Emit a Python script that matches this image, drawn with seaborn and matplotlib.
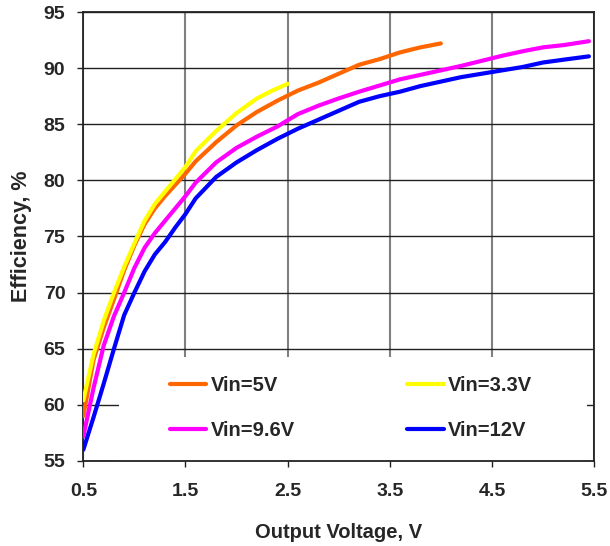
import matplotlib
matplotlib.use("Agg")
import matplotlib.pyplot as plt
from matplotlib.patches import Rectangle
import seaborn as sns
import pandas as pd

# Efficiency vs output voltage for four input voltages
vout_5v = [0.5, 0.6, 0.7, 0.8, 0.9, 1.0, 1.1, 1.2, 1.3, 1.4, 1.5, 1.6, 1.8, 2.0,
           2.2, 2.4, 2.6, 2.8, 3.0, 3.2, 3.4, 3.6, 3.8, 4.0]
eff_5v = [59.0, 64.0, 66.9, 69.4, 72.0, 74.2, 76.1, 77.5, 78.6, 79.6, 80.6, 81.7,
          83.4, 84.9, 86.1, 87.1, 88.0, 88.7, 89.5, 90.3, 90.8, 91.4, 91.85, 92.2]

vout_3v3 = [0.5, 0.6, 0.7, 0.8, 0.9, 1.0, 1.1, 1.2, 1.3, 1.4, 1.5, 1.6, 1.8, 2.0,
            2.2, 2.35, 2.5]
eff_3v3 = [60.4, 64.5, 67.5, 70.0, 72.3, 74.4, 76.4, 77.9, 79.0, 80.1, 81.2, 82.6,
           84.4, 86.0, 87.3, 88.0, 88.6]

vout_9v6 = [0.5, 0.6, 0.7, 0.8, 0.9, 1.0, 1.1, 1.2, 1.3, 1.4, 1.5, 1.6, 1.8, 2.0,
            2.2, 2.4, 2.6, 2.8, 3.0, 3.2, 3.4, 3.6, 3.8, 4.0, 4.2, 4.4, 4.6, 4.8,
            5.0, 5.2, 5.45]
eff_9v6 = [57.2, 61.5, 65.3, 67.9, 70.0, 72.2, 74.0, 75.3, 76.4, 77.5, 78.6, 79.8,
           81.6, 82.9, 83.9, 84.8, 85.9, 86.65, 87.3, 87.9, 88.45, 89.0, 89.4, 89.8,
           90.2, 90.65, 91.1, 91.5, 91.85, 92.05, 92.4]

vout_12v = [0.5, 0.6, 0.7, 0.8, 0.9, 1.0, 1.1, 1.2, 1.3, 1.4, 1.5, 1.6, 1.8, 2.0,
            2.2, 2.4, 2.6, 2.8, 3.0, 3.2, 3.4, 3.6, 3.8, 4.0, 4.2, 4.4, 4.6, 4.8,
            5.0, 5.2, 5.45]
eff_12v = [56.0, 58.9, 61.9, 65.0, 68.0, 70.0, 71.9, 73.4, 74.5, 75.8, 77.0, 78.4,
           80.3, 81.6, 82.7, 83.7, 84.6, 85.4, 86.2, 87.0, 87.5, 87.9, 88.4, 88.8,
           89.2, 89.5, 89.8, 90.1, 90.5, 90.75, 91.05]

series_names = ["Vin=5V", "Vin=3.3V", "Vin=9.6V", "Vin=12V"]
series_colors = ["#FF6600", "#FFFF00", "#FF00FF", "#0000FF"]
x_ticks = [0.5, 1.5, 2.5, 3.5, 4.5, 5.5]
y_ticks = [55, 60, 65, 70, 75, 80, 85, 90, 95]

frames = []
for name, xs, ys in zip(series_names,
                        [vout_5v, vout_3v3, vout_9v6, vout_12v],
                        [eff_5v, eff_3v3, eff_9v6, eff_12v]):
    frames.append(pd.DataFrame({"vout": xs, "eff": ys, "series": name}))
df = pd.concat(frames, ignore_index=True)

sns.set_style("white")
plt.rcParams["font.family"] = ["Liberation Sans", "DejaVu Sans"]
plt.rcParams["font.weight"] = "bold"

fig = plt.figure(figsize=(6.10, 5.46), dpi=100)
ax = fig.add_axes([0.1366, 0.1557, 0.8372, 0.8223])

sns.lineplot(data=df, x="vout", y="eff", hue="series", hue_order=series_names,
             palette=series_colors, linewidth=3.0, ax=ax, legend=False,
             sort=False, estimator=None)
for ln in ax.lines:
    ln.set_solid_capstyle("round")
    ln.set_zorder(3)

ax.set_xlim(0.5, 5.5)
ax.set_ylim(55, 95)
ax.set_xticks(x_ticks)
ax.set_xticklabels([f"{v:.1f}" for v in x_ticks])
ax.set_yticks(y_ticks)
ax.set_yticklabels([str(v) for v in y_ticks])

# Grid: dark horizontals, grey verticals
ax.set_axisbelow(True)
ax.yaxis.grid(True, color="#222222", linewidth=1.0)
ax.xaxis.grid(True, color="#808080", linewidth=1.5)

for sp in ax.spines.values():
    sp.set_visible(True)
    sp.set_color("#222222")
    sp.set_linewidth(1.3)

ax.tick_params(axis="both", which="major", direction="out", length=4.5,
               width=1.0, color="#222222", labelsize=14, bottom=True, left=True)
ax.tick_params(axis="y", pad=8.5)
ax.tick_params(axis="x", pad=11)
for lbl in ax.get_xticklabels() + ax.get_yticklabels():
    lbl.set_fontweight("bold")

ax.set_xlabel("Output Voltage, V", fontsize=14.5, fontweight="bold", labelpad=17)
ax.set_ylabel("Efficiency, %", fontsize=15.5, fontweight="bold", labelpad=8)

# White panel behind the legend
ax.add_patch(Rectangle((0.07, 0.0), 0.916, 0.2316, transform=ax.transAxes,
                       facecolor="white", edgecolor="none", zorder=1))

handles = [plt.Line2D([], [], color=c, linewidth=3.0, solid_capstyle="round")
           for c in series_colors]
order = [0, 2, 1, 3]
ax.legend([handles[i] for i in order], [series_names[i] for i in order],
          ncol=2, loc="center", bbox_to_anchor=(0.524, 0.118), frameon=False,
          prop={"size": 14.5, "weight": "bold"}, handlelength=1.8,
          handletextpad=0.2, columnspacing=5.6, labelspacing=1.3)

fig.savefig("out.png", dpi=100)
